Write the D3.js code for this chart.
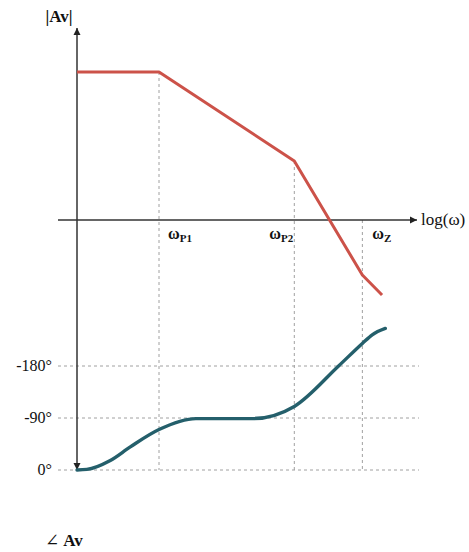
<!DOCTYPE html>
<html><head><meta charset="utf-8">
<script src="https://cdn.jsdelivr.net/npm/d3@7"></script>
<style>body{margin:0;background:#fff}svg{display:block}text{font-family:"Liberation Serif","DejaVu Serif",serif}</style>
</head><body>
<svg id="c" width="469" height="552"></svg>
<script>
// log(ω) positions (arbitrary log units)
const corners = [{name:"P1", x:1.0},{name:"P2", x:2.65},{name:"Z", x:3.48}];
// magnitude (dB, arbitrary)
const magX = [0, 1.0, 2.65, 3.48, 3.72];
const magY = [74, 74, 29.5, -27.5, -37.5];
// phase (degrees)
const phX = [0, 0.12, 0.4, 0.65, 1.0, 1.45, 2.15, 2.65, 3.19, 3.48, 3.6, 3.76];
const phY = [0, -1, -16, -40, -70, -89, -89, -110, -180, -219, -234, -245];
const phaseTicks = [0, -90, -180];
const phaseTickLabels = ["0°", "-90°", "-180°"];

const svg = d3.select("#c");
const x = d3.scaleLinear().domain([0, 1]).range([77, 159]);
const yM = d3.scaleLinear().domain([0, 74]).range([220, 72]);
const yP = d3.scaleLinear().domain([0, -180]).range([470, 366]);

const defs = svg.append("defs");
defs.append("marker").attr("id","arr").attr("viewBox","0 0 10 10").attr("refX",10).attr("refY",5)
  .attr("markerWidth",7).attr("markerHeight",8).attr("orient","auto-start-reverse").attr("markerUnits","userSpaceOnUse")
  .append("path").attr("d","M0,0 L10,5 L0,10 z").attr("fill","#222");

const grid = "#a0a0a0";
svg.selectAll(".pg").data(phaseTicks).join("line")
  .attr("x1", 58).attr("x2", 419).attr("y1", d=>yP(d)).attr("y2", d=>yP(d))
  .attr("stroke", grid).attr("stroke-width",1).attr("stroke-dasharray","3,3");
const magAt = xv => { for (let i=0;i<magX.length-1;i++){ if (xv>=magX[i] && xv<=magX[i+1]) { const t=(xv-magX[i])/(magX[i+1]-magX[i]); return magY[i]+t*(magY[i+1]-magY[i]); } } return 0; };
svg.selectAll(".vg").data(corners).join("line")
  .attr("x1", d=>x(d.x)).attr("x2", d=>x(d.x))
  .attr("y1", d=>Math.min(yM(Math.max(magAt(d.x),0)), 220)).attr("y2", yP(0))
  .attr("stroke", grid).attr("stroke-width",1).attr("stroke-dasharray","3,3");

// axes
svg.append("line").attr("x1",58).attr("x2",417).attr("y1",yM(0)).attr("y2",yM(0))
  .attr("stroke","#333").attr("stroke-width",1.5).attr("marker-end","url(#arr)");
svg.append("line").attr("x1",x(0)).attr("x2",x(0)).attr("y1",(yM(0)+yP(0))/2).attr("y2",28)
  .attr("stroke","#333").attr("stroke-width",1.5).attr("marker-end","url(#arr)");
svg.append("line").attr("x1",x(0)).attr("x2",x(0)).attr("y1",(yM(0)+yP(0))/2).attr("y2",yP(0))
  .attr("stroke","#333").attr("stroke-width",1.5).attr("marker-end","url(#arr)");

svg.append("path").datum(magX.map((v,i)=>[v,magY[i]]))
  .attr("d", d3.line().x(d=>x(d[0])).y(d=>yM(d[1])))
  .attr("fill","none").attr("stroke","#cc5249").attr("stroke-width",3).attr("stroke-linejoin","round");
svg.append("path").datum(phX.map((v,i)=>[v,phY[i]]))
  .attr("d", d3.line().curve(d3.curveMonotoneX).x(d=>x(d[0])).y(d=>yP(d[1])))
  .attr("fill","none").attr("stroke","#245f6b").attr("stroke-width",3.4).attr("stroke-linecap","round");

svg.append("text").attr("x",59).attr("y",22).attr("text-anchor","middle").attr("font-size",17).attr("font-weight","bold").attr("fill","#111").text("|Av|");
svg.append("text").attr("x",421).attr("y",225).attr("font-size",17).attr("fill","#111").text("log(ω)");
const offs = {P1: 9, P2: -25, Z: 10};
corners.forEach(c=>{
  const t = svg.append("text").attr("x", x(c.x)+offs[c.name]).attr("y",239).attr("font-size",16).attr("font-weight","bold").attr("fill","#111");
  t.append("tspan").text("ω");
  t.append("tspan").attr("dy",3).attr("font-size",11).text(c.name);
});
svg.selectAll(".pl").data(phaseTicks).join("text")
  .attr("x", 52).attr("y", d=>yP(d)+5).attr("text-anchor","end").attr("font-size",16).attr("fill","#111")
  .text((d,i)=>phaseTickLabels[i]);
svg.append("text").attr("x",45).attr("y",546).attr("font-size",17).attr("fill","#111")
  .html('<tspan>∠</tspan><tspan dx="4" font-weight="bold">Av</tspan>');
</script>
</body></html>
